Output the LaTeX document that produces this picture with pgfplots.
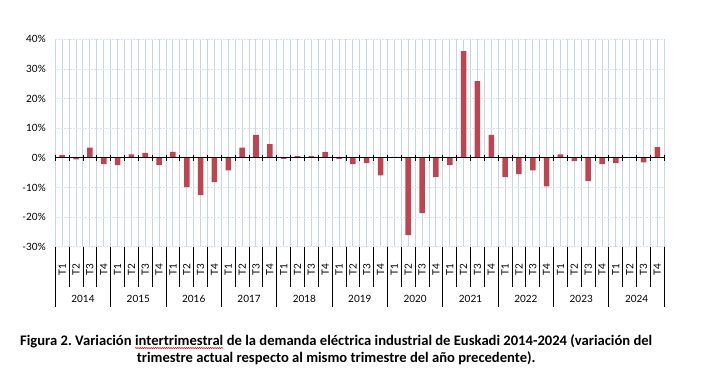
\documentclass[border=0pt]{standalone}
\usepackage{pgfplots}
\pgfplotsset{compat=1.18}
\usepackage{fontspec}
\setmainfont{Lato}
\newfontfamily\capfont{Carlito}
\usetikzlibrary{decorations.pathmorphing}
\definecolor{barred}{HTML}{C0444F}
\definecolor{vgrid}{HTML}{C5D6EB}
\definecolor{hgrid}{HTML}{D8E2F0}
\frenchspacing
\newcommand\squig[1]{\tikz[baseline=(w.base)]{\node[inner sep=0pt,outer sep=0pt](w){#1};\draw[red!85!black,line width=0.5pt,decorate,decoration={snake,amplitude=0.6pt,segment length=2.2pt}]([yshift=-2.0pt]w.south west)--([yshift=-2.0pt]w.south east);}}
\begin{document}
\begin{tikzpicture}
\begin{axis}[
  at={(55.3pt,135.3pt)}, anchor=south west,
  scale only axis, width=609pt, height=207.4pt,
  xmin=-0.5, xmax=43.5, ymin=-30, ymax=40,
  clip=false,
  axis line style={draw=none},
  xtick={0,...,43}, xticklabels={},
  minor xtick={-0.5,0.5,...,43.5},
  ytick={-30,-20,...,40},
  yticklabels={-30\%,-20\%,-10\%,0\%,10\%,20\%,30\%,40\%},
  yticklabel style={font=\fontsize{10}{12}\selectfont, xshift=-6pt},
  major tick length=0pt, minor tick length=0pt,
  xmajorgrids, xminorgrids, ymajorgrids,
  x grid style={vgrid, line width=1pt},
  minor x grid style={vgrid, line width=1pt},
  y grid style={hgrid, line width=0.8pt, dash pattern=on 2pt off 1pt},
]
\addplot[ybar, bar width=0.4, fill=barred, draw=none] table {
x y
0 0.9
1 -0.5
2 3.4
3 -2.1
4 -2.5
5 1.2
6 1.7
7 -2.5
8 2.0
9 -9.9
10 -12.6
11 -8.2
12 -4.2
13 3.4
14 7.7
15 4.6
16 -0.4
17 0.6
18 0.6
19 1.9
20 -0.4
21 -2.1
22 -1.8
23 -5.9
24 0.3
25 -26.1
26 -18.7
27 -6.5
28 -2.5
29 36.0
30 25.9
31 7.7
32 -6.5
33 -5.5
34 -4.2
35 -9.6
36 1.2
37 -1.1
38 -7.9
39 -2.1
40 -1.8
41 0.2
42 -1.5
43 3.6
};
\draw[black, line width=1.3pt] (axis cs:-0.5,0) -- (axis cs:43.5,0);
\pgfplotsinvokeforeach{0,...,44}{
  \draw[black, line width=0.9pt] (axis cs:{#1-0.5},1.1) -- (axis cs:{#1-0.5},-1.1);
  \draw[black, line width=0.9pt] (axis cs:{#1-0.5},-30) -- (axis cs:{#1-0.5},-43.5);
}
\pgfplotsinvokeforeach{0,...,11}{
  \draw[black, line width=0.9pt] (axis cs:{4*#1-0.5},-30) -- (axis cs:{4*#1-0.5},-50.3);
}
\pgfplotsinvokeforeach{0,...,43}{
  \node[rotate=90, font=\fontsize{10}{12}\selectfont, inner sep=0pt] at (axis cs:#1,-37.8) {T\pgfmathparse{int(mod(#1,4)+1)}\pgfmathresult};
}
\pgfplotsinvokeforeach{0,...,10}{
  \node[font=\fontsize{10}{12}\selectfont, inner sep=0pt] at (axis cs:{4*#1+1.5},-47.5) {\pgfmathparse{int(2014+#1)}\pgfmathresult};
}
\end{axis}
\node[font=\capfont\bfseries\fontsize{14.6}{16.7}\selectfont, align=center, inner sep=0pt] at (336.2pt,32pt)
  {Figura 2. Variación \squig{intertrimestral} de la demanda eléctrica industrial de Euskadi 2014-2024 (variación del\\
   trimestre actual respecto al mismo trimestre del año precedente).};
\pgfresetboundingbox
\path (0,0) rectangle (701pt,382pt);
\end{tikzpicture}
\end{document}
